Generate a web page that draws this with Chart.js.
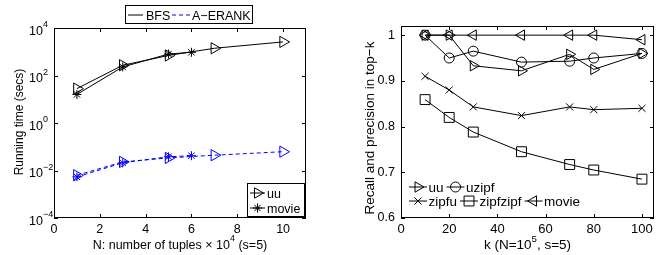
<!DOCTYPE html>
<html>
<head>
<meta charset="utf-8">
<script src="https://cdn.jsdelivr.net/npm/chart.js@4.4.0/dist/chart.umd.min.js"></script>
<style>
  body { margin: 0; background: #fff; }
  #wrap { position: relative; width: 662px; height: 255px; }
  canvas { position: absolute; top: 0; }
</style>
</head>
<body>
<div id="wrap">
  <canvas id="runtimeChart" width="331" height="255" style="left:0"></canvas>
  <canvas id="recallChart" width="331" height="255" style="left:331px"></canvas>
</div>
<script>
// left figure: running time vs N (x 10^4)
const nUu = [1, 3, 5, 7, 10];
const nMovie = [1, 3, 5, 6];
const bfsUu = [28, 270, 700, 1400, 2600];
const bfsMovie = [16, 230, 800, 950];
const aerankUu = [0.0063, 0.023, 0.034, 0.044, 0.062];
const aerankMovie = [0.0054, 0.021, 0.038, 0.042];
const nTicks = [0, 2, 4, 6, 8, 10];
const timeExps = [-4, -2, 0, 2, 4];

// right figure: recall and precision vs k
const kValues = [10, 20, 30, 50, 70, 80, 100];
const recallUu = [1, 1, 0.933, 0.922, 0.958, 0.925, 0.96];
const recallUzipf = [1, 0.95, 0.965, 0.941, 0.943, 0.95, 0.96];
const recallZipfu = [0.91, 0.88, 0.843, 0.824, 0.843, 0.837, 0.84];
const recallZipfzipf = [0.859, 0.82, 0.788, 0.745, 0.717, 0.705, 0.685];
const recallMovie = [1, 1, 1, 1, 1, 1, 0.99];
const kTicks = [0, 20, 40, 60, 80, 100];
const recallTicks = [0.6, 0.7, 0.8, 0.9, 1];

const FAMILY = '"Liberation Sans", Arial, sans-serif';
Chart.defaults.font.family = FAMILY;
Chart.defaults.color = '#000';

function series(xs, ys) {
  return xs.map((x, i) => ({x: x, y: ys[i]}));
}

function drawRich(ctx, parts, x, y, size, align, raise) {
  // parts: [text, isSuperscript]
  const supSize = size * 0.72;
  let w = 0;
  parts.forEach(p => {
    ctx.font = (p[1] ? supSize : size) + 'px ' + FAMILY;
    w += ctx.measureText(p[0]).width;
  });
  let cx = align === 'center' ? x - w / 2 : (align === 'right' ? x - w : x);
  ctx.textAlign = 'left';
  ctx.textBaseline = 'alphabetic';
  parts.forEach(p => {
    ctx.font = (p[1] ? supSize : size) + 'px ' + FAMILY;
    ctx.fillText(p[0], cx, p[1] ? y - raise : y);
    cx += ctx.measureText(p[0]).width;
  });
}

function drawSample(ctx, x1, x2, y, color, dash, mk) {
  ctx.save();
  ctx.strokeStyle = color;
  ctx.lineWidth = 1;
  ctx.setLineDash(dash || []);
  ctx.beginPath();
  ctx.moveTo(x1, y);
  ctx.lineTo(x2, y);
  ctx.stroke();
  ctx.setLineDash([]);
  if (mk) {
    ctx.fillStyle = 'rgba(0,0,0,0)';
    Chart.helpers.drawPoint(ctx, {pointStyle: mk.style, rotation: mk.rotation || 0, radius: mk.radius, borderWidth: 1}, (x1 + x2) / 2, y);
  }
  ctx.restore();
}

function vertTitle(ctx, text, x, y, size) {
  ctx.save();
  ctx.translate(x, y);
  ctx.rotate(-Math.PI / 2);
  ctx.font = size + 'px ' + FAMILY;
  ctx.textAlign = 'center';
  ctx.textBaseline = 'middle';
  ctx.fillStyle = '#000';
  ctx.fillText(text, 0, 0);
  ctx.restore();
}

// box round the axes with inward tick marks on all four sides
const frame = {
  id: 'frame',
  afterDatasetsDraw(chart) {
    const ctx = chart.ctx;
    const a = chart.chartArea;
    const xs = chart.scales.x, ys = chart.scales.y;
    ctx.save();
    ctx.strokeStyle = '#000';
    ctx.lineWidth = 1;
    ctx.strokeRect(a.left + 0.5, a.top + 0.5, a.right - a.left - 1, a.bottom - a.top - 1);
    ctx.beginPath();
    xs.ticks.forEach(t => {
      const px = Math.round(xs.getPixelForValue(t.value)) + 0.5;
      ctx.moveTo(px, a.bottom); ctx.lineTo(px, a.bottom - 4);
      ctx.moveTo(px, a.top); ctx.lineTo(px, a.top + 4);
    });
    ys.ticks.forEach(t => {
      const py = Math.round(ys.getPixelForValue(t.value)) + 0.5;
      ctx.moveTo(a.left, py); ctx.lineTo(a.left + 4, py);
      ctx.moveTo(a.right, py); ctx.lineTo(a.right - 4, py);
    });
    ctx.stroke();
    ctx.restore();
  }
};

const leftText = {
  id: 'leftText',
  afterDraw(chart) {
    const ctx = chart.ctx;
    const ys = chart.scales.y;
    ctx.save();
    ctx.fillStyle = '#000';
    timeExps.forEach(e => {
      const py = ys.getPixelForValue(Math.pow(10, e));
      drawRich(ctx, [['10', false], [String(e).replace('-', '\u2212'), true]], 29, py + 6.5, 12.5, 'left', 7.5);
    });
    drawRich(ctx, [['N: number of tuples \u00d7 10', false], ['4', true], [' (s=5)', false]], 180, 248.7, 12.5, 'center', 7.5);
    vertTitle(ctx, 'Running time (secs)', 20, 122, 12);

    // legend above the axes
    ctx.strokeStyle = '#000';
    ctx.lineWidth = 1;
    ctx.fillStyle = '#fff';
    ctx.fillRect(125.5, 5.5, 127, 18);
    ctx.strokeRect(125.5, 5.5, 127, 18);
    drawSample(ctx, 128, 143, 15, '#000', null, null);
    drawSample(ctx, 172, 191, 15, '#0000ff', [4, 3], null);
    ctx.fillStyle = '#000';
    ctx.font = '12.5px ' + FAMILY;
    ctx.textAlign = 'left';
    ctx.textBaseline = 'alphabetic';
    ctx.fillText('BFS', 146, 19.5);
    ctx.fillText('A\u2212ERANK', 192, 19.5);

    // legend inside, lower right
    ctx.fillStyle = '#fff';
    ctx.fillRect(247.5, 183.5, 57, 33);
    ctx.strokeRect(247.5, 183.5, 57, 33);
    drawSample(ctx, 250, 265, 193, '#000', null, {style: 'triangle', rotation: 90, radius: 6});
    drawSample(ctx, 250, 265, 208, '#000', null, {style: 'star', radius: 4.5});
    ctx.fillStyle = '#000';
    ctx.fillText('uu', 267, 197.5);
    ctx.fillText('movie', 267, 212.5);
    ctx.restore();
  }
};

const rightText = {
  id: 'rightText',
  afterDraw(chart) {
    const ctx = chart.ctx;
    ctx.save();
    ctx.fillStyle = '#000';
    drawRich(ctx, [['k (N=10', false], ['5', true], [', s=5)', false]], 196.5, 249, 13.5, 'center', 7.5);
    vertTitle(ctx, 'Recall and precision in top\u2212k', 39, 128, 13.5);

    // legend without a box, lower left
    const rows = [
      {y: 187, items: [
        {text: 'uu', mk: {style: 'triangle', rotation: 90, radius: 6}},
        {text: 'uzipf', mk: {style: 'circle', radius: 5}}
      ]},
      {y: 201, items: [
        {text: 'zipfu', mk: {style: 'crossRot', radius: 5}},
        {text: 'zipfzipf', mk: {style: 'rect', radius: 7}},
        {text: 'movie', mk: {style: 'triangle', rotation: 270, radius: 6}}
      ]}
    ];
    rows.forEach(r => {
      let x = 78;
      r.items.forEach(it => {
        drawSample(ctx, x, x + 18, r.y, '#000', null, it.mk);
        ctx.fillStyle = '#000';
        ctx.font = '13.5px ' + FAMILY;
        ctx.textAlign = 'left';
        ctx.textBaseline = 'alphabetic';
        ctx.fillText(it.text, x + 19.5, r.y + 5);
        x += 19.5 + ctx.measureText(it.text).width + 3;
      });
    });
    ctx.restore();
  }
};

const lineBase = {
  fill: false,
  tension: 0,
  borderWidth: 1,
  pointBorderWidth: 1,
  pointBackgroundColor: 'rgba(0,0,0,0)'
};

new Chart(document.getElementById('runtimeChart'), {
  type: 'line',
  data: {
    datasets: [
      Object.assign({}, lineBase, {label: 'BFS uu', data: series(nUu, bfsUu), borderColor: '#000', pointBorderColor: '#000', pointStyle: 'triangle', pointRotation: 90, pointRadius: 6.5}),
      Object.assign({}, lineBase, {label: 'BFS movie', data: series(nMovie, bfsMovie), borderColor: '#000', pointBorderColor: '#000', pointStyle: 'star', pointRadius: 4.5}),
      Object.assign({}, lineBase, {label: 'A-ERANK uu', data: series(nUu, aerankUu), borderColor: '#0000ff', pointBorderColor: '#0000ff', borderDash: [4, 3], pointStyle: 'triangle', pointRotation: 90, pointRadius: 6.5}),
      Object.assign({}, lineBase, {label: 'A-ERANK movie', data: series(nMovie, aerankMovie), borderColor: '#0000ff', pointBorderColor: '#0000ff', borderDash: [4, 3], pointStyle: 'star', pointRadius: 4.5})
    ]
  },
  options: {
    responsive: false,
    animation: false,
    events: [],
    layout: {padding: {left: 0, right: 25, top: 28, bottom: 0}},
    plugins: {legend: {display: false}, tooltip: {enabled: false}},
    scales: {
      x: {
        type: 'linear', min: 0, max: 11,
        afterBuildTicks: s => { s.ticks = nTicks.map(v => ({value: v})); },
        afterFit: s => { s.height = 37; },
        grid: {display: false, drawTicks: false},
        border: {display: false},
        ticks: {padding: 4, font: {size: 12.5}, maxRotation: 0}
      },
      y: {
        type: 'logarithmic', min: 1e-4, max: 1e4,
        afterBuildTicks: s => { s.ticks = timeExps.map(e => ({value: Math.pow(10, e)})); },
        afterFit: s => { s.width = 54; },
        grid: {display: false, drawTicks: false},
        border: {display: false},
        ticks: {display: false}
      }
    }
  },
  plugins: [frame, leftText]
});

new Chart(document.getElementById('recallChart'), {
  type: 'line',
  data: {
    datasets: [
      Object.assign({}, lineBase, {label: 'uu', data: series(kValues, recallUu), borderColor: '#000', pointBorderColor: '#000', pointStyle: 'triangle', pointRotation: 90, pointRadius: 6}),
      Object.assign({}, lineBase, {label: 'uzipf', data: series(kValues, recallUzipf), borderColor: '#000', pointBorderColor: '#000', pointStyle: 'circle', pointRadius: 5}),
      Object.assign({}, lineBase, {label: 'zipfu', data: series(kValues, recallZipfu), borderColor: '#000', pointBorderColor: '#000', pointStyle: 'crossRot', pointRadius: 5}),
      Object.assign({}, lineBase, {label: 'zipfzipf', data: series(kValues, recallZipfzipf), borderColor: '#000', pointBorderColor: '#000', pointStyle: 'rect', pointRadius: 7}),
      Object.assign({}, lineBase, {label: 'movie', data: series(kValues, recallMovie), borderColor: '#000', pointBorderColor: '#000', pointStyle: 'triangle', pointRotation: 270, pointRadius: 6})
    ]
  },
  options: {
    responsive: false,
    animation: false,
    events: [],
    layout: {padding: {left: 0, right: 8, top: 26, bottom: 0}},
    plugins: {legend: {display: false}, tooltip: {enabled: false}},
    scales: {
      x: {
        type: 'linear', min: 0, max: 105,
        afterBuildTicks: s => { s.ticks = kTicks.map(v => ({value: v})); },
        afterFit: s => { s.height = 37; },
        grid: {display: false, drawTicks: false},
        border: {display: false},
        ticks: {padding: 4, font: {size: 13}, maxRotation: 0}
      },
      y: {
        type: 'linear', min: 0.6, max: 1.02,
        afterBuildTicks: s => { s.ticks = recallTicks.map(v => ({value: v})); },
        afterFit: s => { s.width = 70; },
        grid: {display: false, drawTicks: false},
        border: {display: false},
        ticks: {padding: 6, font: {size: 12.5}, callback: v => (v === 1 ? '1' : v.toFixed(1))}
      }
    }
  },
  plugins: [frame, rightText]
});
</script>
</body>
</html>
